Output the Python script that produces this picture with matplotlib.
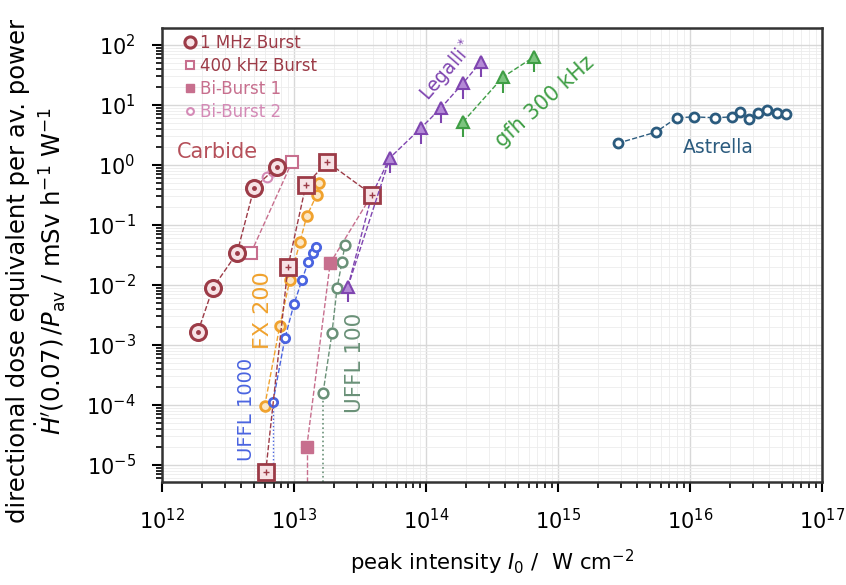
import numpy as np
import matplotlib.pyplot as plt

# Carbide, 1 MHz Burst
mhz1_I = [1.87e12, 2.43e12, 3.7e12, 4.98e12, 7.43e12]
mhz1_H = [1.65e-3, 8.9e-3, 3.4e-2, 0.41, 0.93]
# Carbide, 400 kHz Burst
khz400_I = [4.72e12, 9.66e12]
khz400_H = [3.4e-2, 1.12]
# Carbide, Bi-Burst 1 / Bi-Burst 2
bi1_I = [1.25e13, 1.88e13]
bi1_H = [2.0e-5, 2.3e-2]
bi2_I = [6.2e12, 6.9e12]
bi2_H = [0.62, 0.8]
# Carbide, single (large squares)
single_I = [6.1e12, 9.0e12, 1.23e13, 1.78e13, 3.9e13]
single_H = [7.6e-6, 2.0e-2, 0.46, 1.12, 0.32]
# FX 200
fx_I = [6.0e12, 7.8e12, 9.3e12, 1.11e13, 1.25e13, 1.49e13, 1.55e13]
fx_H = [9.6e-5, 2.07e-3, 1.2e-2, 5.2e-2, 0.14, 0.32, 0.5]
# UFFL 1000
u1000_I = [6.93e12, 8.55e12, 1.0e13, 1.15e13, 1.28e13, 1.39e13, 1.47e13]
u1000_H = [1.12e-4, 1.31e-3, 4.8e-3, 1.21e-2, 2.4e-2, 3.4e-2, 4.3e-2]
# UFFL 100
u100_I = [1.66e13, 1.94e13, 2.12e13, 2.31e13, 2.43e13]
u100_H = [1.58e-4, 1.58e-3, 8.9e-3, 2.4e-2, 4.6e-2]
# Legalli*
leg_I = [2.56e13, 5.33e13, 9.16e13, 1.3e14, 1.91e14, 2.61e14]
leg_H = [9.3e-3, 1.31, 4.1, 8.9, 23, 52]
# gfh 300 kHz
gfh_I = [1.91e14, 3.83e14, 6.58e14]
gfh_H = [5.2, 29, 63]
# Astrella
ast_I = [2.85e15, 5.5e15, 7.97e15, 1.07e16, 1.55e16, 2.08e16, 2.39e16,
         2.8e16, 3.27e16, 3.83e16, 4.56e16, 5.33e16]
ast_H = [2.3, 3.5, 6.1, 6.3, 6.1, 6.3, 7.6, 5.8, 7.4, 8.3, 7.4, 7.1]

c_dark = '#9c3b47'
c_pink = '#c76f8e'
c_pink2 = '#d48ab6'
c_fx = '#f0a22e'
c_u1000 = '#4a64e0'
c_u100 = '#6a9178'
c_leg = '#7f45b0'
c_gfh = '#3f9e45'
c_ast = '#2b5b7e'

fig = plt.figure(figsize=(8.46, 5.85), dpi=100)
ax = fig.add_axes([0.1915, 0.176, 0.78, 0.776])
ax.set_xscale('log')
ax.set_yscale('log')
ax.set_xlim(1e12, 1e17)
ax.set_ylim(5.2e-6, 1.9e2)

ax.grid(True, which='major', color='#d8d8d8', lw=1.0)
ax.grid(True, which='minor', color='#ececec', lw=0.6)
ax.set_axisbelow(True)

ybot = 5.2e-6
# detection-limit drop lines
ax.plot([bi1_I[0], bi1_I[0]], [ybot, bi1_H[0]], ls='--', color=c_pink, lw=1)
ax.plot([u100_I[0], u100_I[0]], [ybot, u100_H[0]], ls=':', color=c_u100, lw=1.2)
ax.plot([u1000_I[0], u1000_I[0]], [ybot, u1000_H[0]], ls=':', color=c_u1000, lw=1)

ax.plot(single_I, single_H, ls='--', color=c_dark, lw=1, marker='s', ms=12,
        mfc='#f7e3e6', mec=c_dark, mew=2, zorder=4)
ax.plot(single_I, single_H, ls='none', marker='+', ms=5, color=c_dark, zorder=5)
ax.plot(fx_I, fx_H, ls='--', color=c_fx, lw=1, marker='o', ms=7,
        mfc='#fbe7c6', mec=c_fx, mew=2, zorder=3)
ax.plot(u1000_I, u1000_H, ls='--', color=c_u1000, lw=1, marker='o', ms=6,
        mfc='white', mec=c_u1000, mew=2, zorder=3)
ax.plot(u100_I, u100_H, ls='--', color=c_u100, lw=1, marker='o', ms=7,
        mfc='white', mec=c_u100, mew=1.8, zorder=3)
ax.plot(bi1_I + [single_I[-1]], bi1_H + [single_H[-1]], ls='--', color=c_pink, lw=1)
ax.plot(bi1_I, bi1_H, ls='none', marker='s', ms=8, color=c_pink, zorder=4,
        label='Bi-Burst 1')

ax.plot(mhz1_I, mhz1_H, ls='--', color=c_dark, lw=1, marker='o', ms=11.5,
        mfc='#f7e3e6', mec=c_dark, mew=2.2, zorder=4, label='1 MHz Burst')
ax.plot(mhz1_I, mhz1_H, ls='none', marker='o', ms=2.5, color=c_dark, zorder=5)
ax.plot(khz400_I, khz400_H, ls='--', color=c_pink, lw=1, marker='s', ms=8,
        mfc='white', mec=c_pink, mew=1.5, zorder=3, label='400 kHz Burst')
ax.plot(bi2_I, bi2_H, ls='--', color=c_pink2, lw=1, marker='o', ms=7,
        mfc='white', mec=c_pink2, mew=1.5, zorder=3, label='Bi-Burst 2')

leg_H = np.array(leg_H)
ax.plot([leg_I[0], single_I[-1], leg_I[1]], [leg_H[0], single_H[-1], leg_H[1]],
        ls='--', color=c_leg, lw=1)
ax.errorbar(leg_I, leg_H, yerr=[leg_H * 0.45, leg_H * 0.1], ls='--', color=c_leg,
            lw=1, marker='^', ms=8, mfc='#b48ad6', mec=c_leg, mew=1.5, capsize=0,
            elinewidth=1.5, zorder=4)
gfh_H = np.array(gfh_H)
ax.errorbar(gfh_I, gfh_H, yerr=[gfh_H * 0.45, gfh_H * 0.1], ls='--', color=c_gfh,
            lw=1, marker='^', ms=8, mfc='#7cc47f', mec=c_gfh, mew=1.5, capsize=0,
            elinewidth=1.5, zorder=4)
ax.plot(ast_I, ast_H, ls='--', color=c_ast, lw=1, marker='o', ms=6.5,
        mfc='white', mec=c_ast, mew=2, zorder=4)

ax.text(1.3e12, 1.65, 'Carbide', color='#b5505a', fontsize=15, va='center')
ax.text(1.65e16, 1.92, 'Astrella', color=c_ast, fontsize=13.5, ha='center', va='center')
ax.text(1.44e14, 37, 'Legalli$^*$', color=c_leg, fontsize=13.5, rotation=49,
        ha='center', va='center')
ax.text(7.9e14, 11.5, 'gfh 300 kHz', color=c_gfh, fontsize=15, rotation=42,
        ha='center', va='center')
ax.text(4.4e12, 8.3e-5, 'UFFL 1000', color=c_u1000, fontsize=14, rotation=90,
        ha='center', va='center')
ax.text(5.8e12, 3.8e-3, 'FX 200', color=c_fx, fontsize=16, rotation=90,
        ha='center', va='center')
ax.text(2.9e13, 5.0e-4, 'UFFL 100', color=c_u100, fontsize=15.5, rotation=90,
        ha='center', va='center')

handles, labels = ax.get_legend_handles_labels()
order = [labels.index(l) for l in ['1 MHz Burst', '400 kHz Burst', 'Bi-Burst 1', 'Bi-Burst 2']]
lg = ax.legend([handles[i] for i in order], [labels[i] for i in order],
               loc='upper left', bbox_to_anchor=(0.012, 1.02), frameon=False,
               fontsize=12, handlelength=0.6, handletextpad=0.3, labelspacing=0.3,
               markerscale=0.7,
               labelcolor=[c_dark, c_dark, c_pink, c_pink2])
for h in lg.legend_handles:
    h.set_linestyle('none')

ax.tick_params(which='both', direction='out', labelsize=15, width=1.5)
ax.tick_params(which='major', length=7)
ax.tick_params(which='minor', length=4, width=1.2)
ax.tick_params(axis='x', which='major', pad=12)
ax.tick_params(axis='y', which='major', pad=12)
for s in ax.spines.values():
    s.set_linewidth(1.8)
    s.set_color('#333333')

ax.set_xlabel('peak intensity $I_0$ /  W cm$^{-2}$', fontsize=15.3, labelpad=10)
ax.set_ylabel("directional dose equivalent per av. power\n"
              "$\\dot{H}'(0.07)\\,/P_{\\rm av}$ / mSv h$^{-1}$ W$^{-1}$",
              fontsize=17.5, linespacing=1.15)
ax.yaxis.set_label_coords(-0.142, 0.465)

fig.savefig('out.png', dpi=100)
